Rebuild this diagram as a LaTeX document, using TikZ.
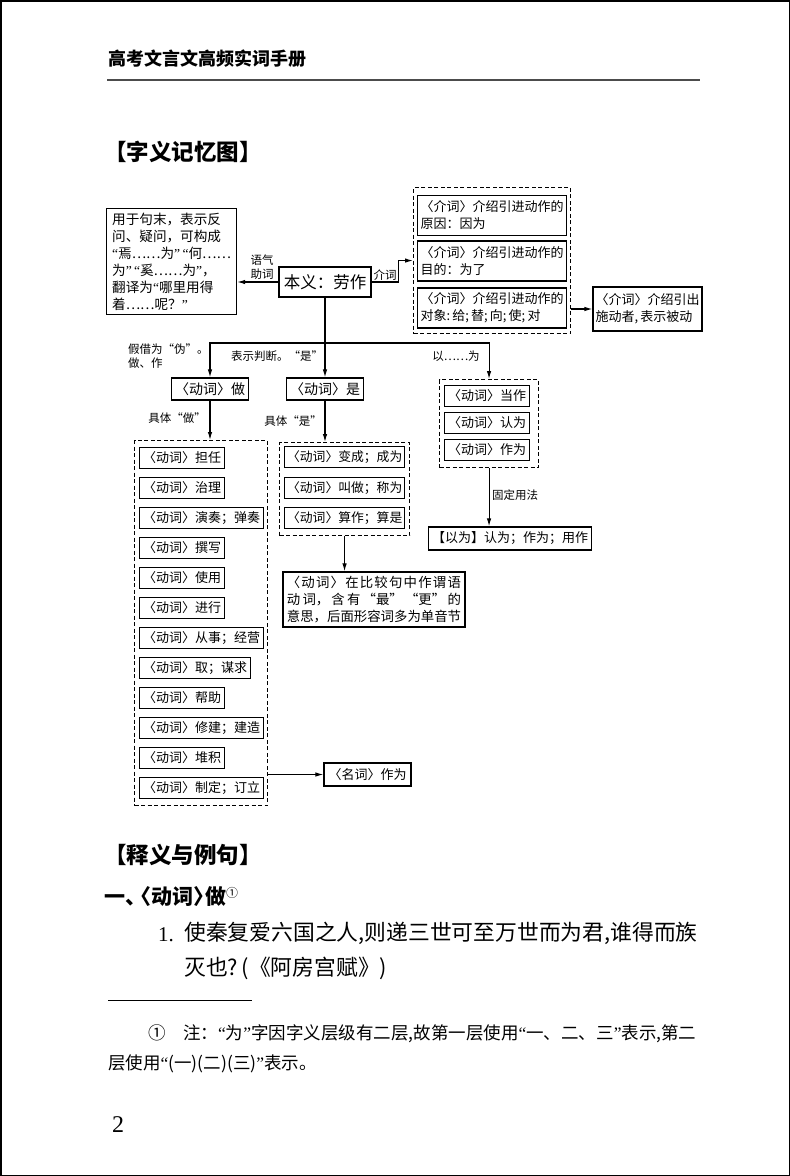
\documentclass[tikz,border=0pt]{standalone}
\usepackage{fontspec}
\setmainfont{Noto Sans CJK SC}
\newfontfamily\numfont{Liberation Serif}
\newcommand\qL{{\numfont “}}
\newcommand\qR{{\numfont ”}}
\usetikzlibrary{arrows.meta}

\begin{document}
\begin{tikzpicture}[x=1pt,y=-1pt,
	every node/.style={inner sep=0pt, text=black},
	box/.style={draw, line width=1.2pt, inner xsep=3.5pt, inner ysep=1pt, minimum height=21pt, font=\fontsize{13}{16}\selectfont},
	grp/.style={draw, line width=1.1pt, dash pattern=on 4pt off 2.5pt},
	lbl/.style={font=\fontsize{11.5}{14}\selectfont, align=left},
	arr/.style={line width=1.1pt, -{Latex[length=8pt,width=4.5pt]}}]

		\useasboundingbox (0,0) rectangle (790,1176);
		\draw [line width=1.5pt] (0.75,0.75) rectangle (789.25,1175.25);

		\node [anchor=west, font=\fontsize{18}{18}\selectfont\bfseries] (book) at (108,59) {高考文言文高频实词手册};
		\draw [line width=1.2pt, black!70] (107,80) -- (700,80);
		\node [anchor=west, font=\fontsize{22.5}{22.5}\selectfont\bfseries] (mapttl) at (104,152) {【字义记忆图】};

		\node [box, anchor=north west, minimum width=130pt, minimum height=106pt, inner xsep=4pt, align=left, font=\fontsize{13.6}{17}\selectfont] (yuqi) at (106,208)
			{用于句末，表示反\\问、疑问，可构成\\\qL 焉……为\qR\,\qL 何……\\为\qR\,\qL 奚……为\qR，\\翻译为\qL 哪里用得\\着……呢？\qR};
		\node [box, minimum width=92pt, minimum height=30pt, font=\fontsize{16.5}{16.5}\selectfont] (laozuo) at (325,282) {本义：劳作};

		\node [grp, anchor=north west, minimum width=157pt, minimum height=146pt] (jiegrp) at (413,187) {};
		\foreach \t/\y [count=\i] in {原因：因为/215.5, 目的：为了/261, 对象:\,给;\,替;\,向;\,使;\,对/308}
			\node [box, anchor=west, minimum width=149pt, minimum height=40pt, inner xsep=2.5pt, align=left, font=\fontsize{13}{17}\selectfont] (j\i) at (417,\y) {〈介词〉介绍引进动作的\\\t};
		\node [box, minimum width=109pt, minimum height=44pt, inner xsep=2.5pt, align=left, font=\fontsize{13}{17}\selectfont] (beidong) at (647.5,309) {〈介词〉介绍引出\\施动者,\,表示被动};

		\draw [arr] (laozuo.west) -- (laozuo.west -| yuqi.east);
		\node [lbl, align=center] (yuqilbl) at (262,267) {语气\\助词};
		\draw [arr] (laozuo.east) -- ++(27,0) |- (jiegrp.west);
		\node [lbl] (jielbl) at (385,275) {介词};
		\draw [arr] (beidong.west -| jiegrp.east) -- (beidong.west);

		\node [box, minimum width=74pt, minimum height=22pt, font=\fontsize{14}{14}\selectfont] (zuo) at (210,389) {〈动词〉做};
		\node [box, minimum width=75pt, minimum height=22pt, font=\fontsize{14}{14}\selectfont] (shi) at (325,389) {〈动词〉是};
		\node [grp, anchor=north west, minimum width=99pt, minimum height=88pt] (yiwei) at (439,379) {};
		\coordinate (fork) at (325,343);
		\draw [arr] (laozuo.south) -- (shi.north);
		\draw [arr] (fork) -| (zuo.north);
		\draw [arr] (fork) -| (yiwei.north);
		\node [lbl, anchor=north west] (jiajie) at (128,344) {假借为“伪”。\\做、作};
		\node [lbl] (panduan) at (277,356) {表示判断。“是”};
		\node [lbl] (yiweilbl) at (456,356) {以……为};

		\node [grp, anchor=north west, minimum width=133pt, minimum height=365pt] (zuogrp) at (134,440) {};
		\foreach \t [count=\i] in {担任,治理,演奏；弹奏,撰写,使用,进行,从事；经营,取；谋求,帮助,修建；建造,堆积,制定；订立}
			\node [box, anchor=west] (z\i) at (139,428+30*\i) {〈动词〉\t};
		\draw [arr] (zuo.south) -- (zuo.south |- zuogrp.north);
		\node [lbl] (juti1) at (177,418) {具体“做”};
		\node [box, minimum width=87pt, minimum height=23pt] (mingci) at (367.5,774.5) {〈名词〉作为};
		\draw [arr] (mingci.west -| zuogrp.east) -- (mingci.west);

		\node [grp, anchor=north west, minimum width=130pt, minimum height=93pt] (shigrp) at (279,442) {};
		\foreach \t/\y [count=\i] in {变成；成为/457, 叫做；称为/488, 算作；算是/518}
			\node [box, anchor=west, inner xsep=2.5pt, font=\fontsize{12.8}{16}\selectfont] (s\i) at (284,\y) {〈动词〉\t};
		\draw [arr] (shi.south) -- (shi.south |- shigrp.north);
		\node [lbl] (juti2) at (293,421) {具体“是”};
		\node [box, minimum width=182pt, minimum height=55pt, align=left, font=\fontsize{13.4}{17}\selectfont] (bijiao) at (374,599.5)
			{\makebox[174pt][s]{〈\hfil 动\hfil 词\hfil 〉\hfil 在\hfil 比\hfil 较\hfil 句\hfil 中\hfil 作\hfil 谓\hfil 语}\\
			 \makebox[174pt][s]{动\hfil 词，\hfil 含\hfil 有\hfil “最”\hfil “更”\hfil 的}\\
			 意思，后面形容词多为单音节};
		\draw [arr] (shigrp.south) -- (shigrp.south |- bijiao.north);

		\foreach \t/\y [count=\i] in {当作/396, 认为/423, 作为/450}
			\node [box, anchor=west] (y\i) at (444,\y) {〈动词〉\t};
		\node [box, minimum height=23pt] (guding) at (510,538.5) {【以为】认为；作为；用作};
		\draw [arr] (yiwei.south) -- (yiwei.south |- guding.north);
		\node [lbl, anchor=west] (gudinglbl) at (492,495) {固定用法};

		\node [anchor=west, font=\fontsize{22.5}{22.5}\selectfont\bfseries] (shiyi) at (104,855) {【释义与例句】};
		\node [anchor=west, font=\fontsize{21}{21}\selectfont\bfseries] (dong) at (104,897)
			{一、\kern-0.75em〈动词〉\kern-0.45em做\raisebox{7pt}{\fontsize{12}{12}\selectfont\mdseries ①}};
		\node [anchor=west, font=\numfont\fontsize{21}{21}\selectfont] (no1) at (158,935) {1.};
		\node [anchor=north west, align=left, font=\fontsize{21.8}{35}\selectfont] (liju) at (184,922)
			{使秦复爱六国之人,则递三世可至万世而为君,谁得而族\\灭也?\,(《阿房宫赋》)};
		\draw [line width=1pt] (108,1000) -- (252,1000);
		\node [anchor=north west, align=left, font=\fontsize{17.5}{30}\selectfont] (zhu) at (108,1024)
			{\hspace*{40pt}①\quad 注：\qL 为\qR 字因字义层级有二层,故第一层使用\qL 一、二、三\qR 表示,第二\\层使用\qL(一)(二)(三)\qR 表示。};
		\node [font=\numfont\fontsize{24}{24}\selectfont] (pgno) at (118,1125) {2};

\end{tikzpicture}
\end{document}
